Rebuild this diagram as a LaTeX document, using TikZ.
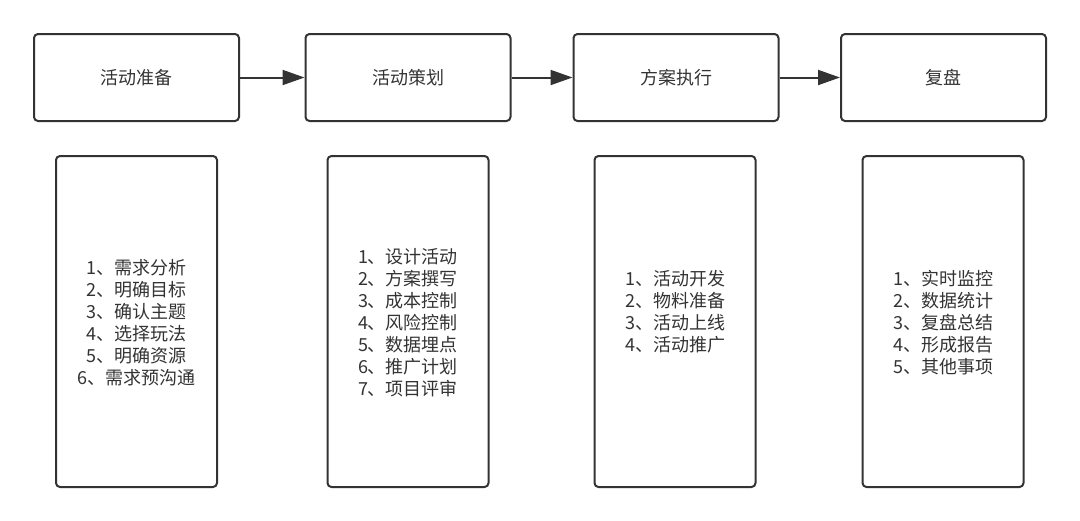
\documentclass[tikz,border=0pt]{standalone}
\usepackage{fontspec}
\setmainfont{Noto Sans CJK SC}
\usetikzlibrary{arrows.meta}
\definecolor{ink}{HTML}{333333}
\begin{document}
\begin{tikzpicture}[x=1pt,y=-1pt,
  stage/.style={draw=ink, line width=2pt, rounded corners=4pt, minimum width=205pt, minimum height=87pt, inner sep=0pt, text=ink, font=\fontsize{18}{22}\selectfont},
  detail/.style={draw=ink, line width=2pt, rounded corners=4pt, minimum width=161pt, minimum height=331pt, inner sep=0pt},
  itemlist/.style={text=ink, align=center, inner sep=0pt, font=\fontsize{18}{22}\selectfont},
  flow/.style={draw=ink, line width=2pt, -{Triangle[length=22pt,width=15pt]}}]
\useasboundingbox (0,0) rectangle (1080,520);
\node[stage] (s1) at (136.5,77.5) {活动准备};
\node[stage] (s2) at (408,77.5) {活动策划};
\node[stage] (s3) at (676,77.5) {方案执行};
\node[stage] (s4) at (943.5,77.5) {复盘};
\draw[flow] (s1.east) -- (s2.west);
\draw[flow] (s2.east) -- (s3.west);
\draw[flow] (s3.east) -- (s4.west);
\node[detail] (d1) at (136.5,321.5) {};
\node[detail] (d2) at (408,321.5) {};
\node[detail] (d3) at (675,321.5) {};
\node[detail] (d4) at (943,321.5) {};
\node[itemlist] (l1) at (136.5,323) {1、需求分析\\2、明确目标\\3、确认主题\\4、选择玩法\\5、明确资源\\6、需求预沟通};
\node[itemlist] (l2) at (408,323) {1、设计活动\\2、方案撰写\\3、成本控制\\4、风险控制\\5、数据埋点\\6、推广计划\\7、项目评审};
\node[itemlist] (l3) at (675,312) {1、活动开发\\2、物料准备\\3、活动上线\\4、活动推广};
\node[itemlist] (l4) at (943,323) {1、实时监控\\2、数据统计\\3、复盘总结\\4、形成报告\\5、其他事项};
\end{tikzpicture}
\end{document}
